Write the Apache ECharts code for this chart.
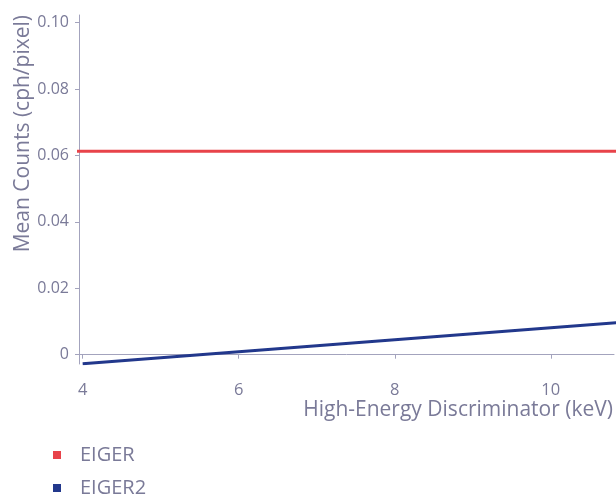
<!DOCTYPE html>
<html><head><meta charset="utf-8">
<script src="https://cdn.jsdelivr.net/npm/echarts@6/dist/echarts.min.js"></script>
<style>html,body{margin:0;padding:0;background:#fff}#c{width:616px;height:498px}</style>
</head><body><div id="c"></div>
<script>
const eigerEnergy = [3, 4, 5, 6, 7, 8, 9, 10, 11];
const eigerCounts = [0.0613, 0.0613, 0.0613, 0.0613, 0.0613, 0.0613, 0.0613, 0.0613, 0.0613];
const eiger2Energy = [4, 5, 6, 7, 8, 9, 10, 11];
const eiger2Counts = [-0.0027, -0.0009, 0.0009, 0.0027, 0.0045, 0.0063, 0.0081, 0.0099];
const xTicks = [4, 6, 8, 10];
const yTicks = [0, 0.02, 0.04, 0.06, 0.08, 0.10];
const seriesNames = ['EIGER', 'EIGER2'];
const xTitle = 'High-Energy Discriminator (keV)';
const yTitle = 'Mean Counts (cph/pixel)';

const txt = '#7a7a98';
const axisCol = '#a3a3bd';
const font = 'Open Sans';
const legendBase = {
  orient: 'vertical', left: 53, padding: 0, itemWidth: 8, itemHeight: 8,
  icon: 'rect',
  textStyle: {color: txt, fontFamily: font, fontSize: 20, lineHeight: 20, padding: [0, 0, 0, 14]}
};
const chart = echarts.init(document.getElementById('c'), null, {renderer: 'canvas'});
chart.setOption({
  animation: false,
  grid: {left: 79, right: 2, top: 15, bottom: 134, containLabel: false, outerBoundsMode: 'none'},
  graphic: [{
    type: 'text', right: 3, top: 400,
    style: {text: xTitle, fill: txt, font: '21px "Open Sans"'}
  }],
  xAxis: {
    type: 'value', min: 3.953, max: 10.81,
    axisLine: {show: true, lineStyle: {color: axisCol, width: 1}},
    axisTick: {show: true, length: 4, customValues: xTicks, lineStyle: {color: axisCol}},
    axisLabel: {customValues: xTicks, color: txt, fontFamily: font, fontSize: 16.5, margin: 18},
    splitLine: {show: false}
  },
  yAxis: {
    type: 'value', min: -0.0028, max: 0.1023,
    name: yTitle, nameLocation: 'end', nameGap: 0, nameRotate: 90,
    nameTextStyle: {color: txt, fontFamily: font, fontSize: 21, align: 'right', verticalAlign: 'bottom', padding: [0, 0, 45, 0]},
    axisLine: {show: true, lineStyle: {color: axisCol, width: 1}},
    axisTick: {show: true, length: 4, customValues: yTicks, lineStyle: {color: axisCol}},
    axisLabel: {customValues: yTicks, color: txt, fontFamily: font, fontSize: 16, margin: 10,
      formatter: v => (Math.abs(v) < 1e-9 ? '0' : v.toFixed(2))},
    splitLine: {show: false}
  },
  legend: [
    Object.assign({}, legendBase, {top: 445, data: [seriesNames[0]]}),
    Object.assign({}, legendBase, {top: 478, data: [seriesNames[1]]})
  ],
  series: [
    {name: seriesNames[0], type: 'line', showSymbol: false, symbol: 'none', clip: true,
      lineStyle: {color: '#e8434a', width: 3}, itemStyle: {color: '#e8434a'},
      data: eigerEnergy.map((x, i) => [x, eigerCounts[i]])},
    {name: seriesNames[1], type: 'line', showSymbol: false, symbol: 'none', clip: true,
      lineStyle: {color: '#22388c', width: 3}, itemStyle: {color: '#22388c'},
      data: eiger2Energy.map((x, i) => [x, eiger2Counts[i]])}
  ]
});
</script></body></html>
